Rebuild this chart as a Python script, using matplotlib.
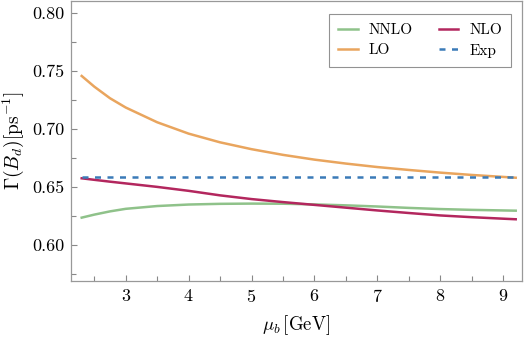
import matplotlib
matplotlib.use("Agg")
import matplotlib.pyplot as plt
from matplotlib.ticker import MultipleLocator, FormatStrFormatter

# Data
mu = [2.3, 2.5, 2.75, 3.0, 3.5, 4.0, 4.5, 5.0, 5.5, 6.0, 6.5, 7.0, 7.5, 8.0,
      8.5, 9.0, 9.2]
lo = [0.7457, 0.7365, 0.7265, 0.7185, 0.7058, 0.6960, 0.6885, 0.6826, 0.6777,
      0.6736, 0.6702, 0.6672, 0.6647, 0.6624, 0.6604, 0.6587, 0.6580]
nlo = [0.6575, 0.6562, 0.6546, 0.6531, 0.6501, 0.6467, 0.6428, 0.6396, 0.6370,
       0.6346, 0.6322, 0.6298, 0.6276, 0.6255, 0.6240, 0.6227, 0.6222]
nnlo = [0.6236, 0.6262, 0.6290, 0.6312, 0.6336, 0.6349, 0.6355, 0.6357, 0.6356,
        0.6350, 0.6342, 0.6332, 0.6320, 0.6310, 0.6303, 0.6298, 0.6296]
exp_val = 0.6590

plt.rcParams['font.family'] = ['cmr10', 'DejaVu Serif']
plt.rcParams['mathtext.fontset'] = 'cm'
plt.rcParams['axes.formatter.use_mathtext'] = True

fig = plt.figure(figsize=(5.25, 3.43), dpi=100)
ax = fig.add_axes([71/525, 1-281/343, (522-71)/525, (281-1)/343])

c_nnlo = '#8fc28a'
c_lo = '#e9a55e'
c_nlo = '#b3275e'
c_exp = '#3b7bb8'

lw = 1.8
l1, = ax.plot(mu, nnlo, color=c_nnlo, lw=lw, label='NNLO')
l2, = ax.plot(mu, lo, color=c_lo, lw=lw, label='LO')
l3, = ax.plot(mu, nlo, color=c_nlo, lw=lw, label='NLO')
l4, = ax.plot([mu[0], mu[-1]], [exp_val, exp_val], color=c_exp, lw=lw,
              dashes=(2.4, 2.6), label='Exp')

ax.set_xlim(2.13, 9.3)
ax.set_ylim(0.569, 0.8103)

ax.xaxis.set_major_locator(MultipleLocator(1))
ax.xaxis.set_minor_locator(MultipleLocator(0.5))
ax.yaxis.set_major_locator(MultipleLocator(0.05))
ax.yaxis.set_minor_locator(MultipleLocator(0.025))
ax.yaxis.set_major_formatter(FormatStrFormatter('%.2f'))

for s in ax.spines.values():
    s.set_color('#999999')
    s.set_linewidth(0.9)

ax.tick_params(which='both', direction='in', color='#888888', width=0.8,
               top=False, right=False, labelsize=13, pad=5)
ax.tick_params(which='major', length=4)
ax.tick_params(which='minor', length=3.5)

ax.set_xlabel(r'$\mu_b\,[\mathrm{GeV}]$', fontsize=13.5, labelpad=6)
ax.set_ylabel(r'$\Gamma(B_d)[\mathrm{ps}^{-1}]$', fontsize=14, labelpad=4)

leg = ax.legend(handles=[l1, l2, l3, l4], ncol=2, loc='upper right',
                bbox_to_anchor=((511-71)/451, (281-14)/280), borderaxespad=0,
                fontsize=11, frameon=True,
                fancybox=False, edgecolor='#777777', handlelength=1.3,
                columnspacing=1.7, borderpad=0.6, handletextpad=0.7,
                labelspacing=0.45)
leg.get_frame().set_linewidth(0.8)

fig.savefig('out.png', dpi=100)
